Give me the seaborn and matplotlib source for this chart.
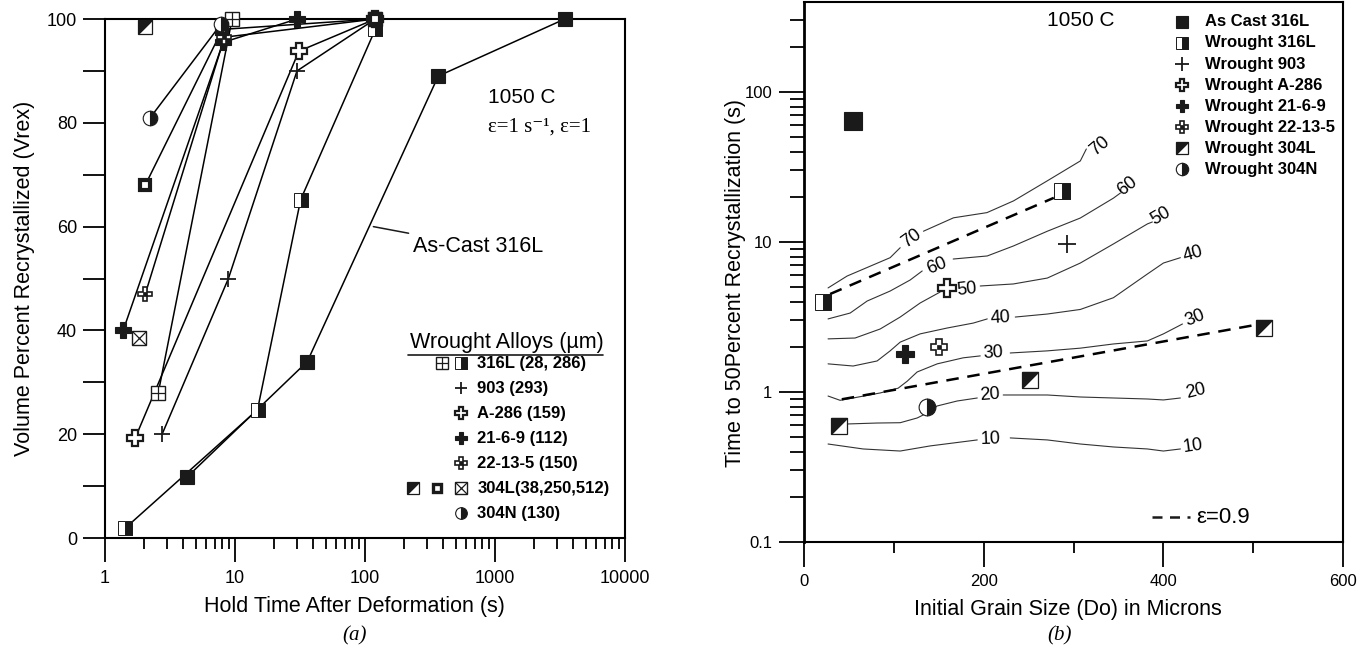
import numpy as np
import pandas as pd
import matplotlib
matplotlib.use("Agg")
import matplotlib.pyplot as plt
import seaborn as sns
from matplotlib.ticker import FixedLocator, FuncFormatter, LogLocator, NullFormatter

sns.set_theme(style="ticks", rc={"axes.edgecolor": "black", "text.color": "black",
                                 "xtick.color": "black", "ytick.color": "black",
                                 "axes.labelcolor": "black"})
plt.rcParams["font.family"] = ["Liberation Sans", "DejaVu Sans"]
SERIF = ["Liberation Serif", "DejaVu Serif"]

# =========================
# (a) hold time vs volume recrystallized
# =========================
hold_series = ["As-Cast 316L", "316L (286)", "316L (28)", "903", "A-286", "21-6-9",
               "22-13-5", "304L (38)", "304L (250)", "304L (512)", "304N"]
hold_time = [[4.3, 36, 366, 3440], [1.43, 14.9, 32, 120], [2.57, 9.5, 120],
             [2.75, 8.9, 30, 120], [1.71, 31, 120], [1.38, 8.1, 30, 120],
             [2.04, 8.3, 120], [2.04], [2.04, 8.0, 120], [1.83], [2.23, 7.8]]
vrex = [[11.8, 34, 89, 100], [1.9, 24.7, 65.2, 98], [28, 100, 100],
        [20, 50, 90, 100], [19.3, 93.8, 100], [40, 95.5, 100, 100],
        [47, 96.5, 100], [98.5], [68, 98, 100], [38.6], [81, 99]]
hold_kind = ["filled", "half", "gridbox", "plus", "ocross", "fcross", "cross22",
             "diag", "thick", "xbox", "halfcircle"]

key_a_labels = ["316L (28, 286)", "903 (293)", "A-286 (159)", "21-6-9 (112)",
                "22-13-5 (150)", "304L(38,250,512)", "304N (130)"]
key_a_kinds = [["gridbox", "half"], ["plus"], ["ocross"], ["fcross"], ["cross22"],
               ["diag", "thick", "xbox"], ["halfcircle"]]

# =========================
# (b) grain size vs time to 50% recrystallization
# =========================
grain_size = [54.6, 21, 287, 293, 159, 112.5, 150, 39, 251, 512.5, 137]
t50 = [64, 4.0, 21.9, 9.7, 4.94, 1.79, 2.0, 0.59, 1.2, 2.67, 0.79]
grain_kind = ["filled", "half", "half", "plus", "ocross", "fcross", "cross22",
              "diag", "diag", "diag", "halfcircle"]

key_b_labels = ["As Cast 316L", "Wrought 316L", "Wrought 903", "Wrought A-286",
                "Wrought 21-6-9", "Wrought 22-13-5", "Wrought 304L", "Wrought 304N"]
key_b_kinds = ["filled", "half", "plus", "ocross", "fcross", "cross22", "diag", "halfcircle"]

# contour lines, split where the inline label sits
levels = [70, 60, 50, 40, 30, 20, 10]
cont_D1 = [[26.7, 47.9, 95.8, 107.0],
           [26.7, 51.3, 70.2, 95.8, 118.1, 131.5],
           [26.7, 56.8, 84.7, 107.0, 129.2, 151.5],
           [26.7, 54.6, 81.3, 95.8, 107.0, 129.2, 159.3, 188.3, 203.9],
           [26.7, 40.1, 54.6, 84.7, 104.7, 114.8, 125.9, 148.2, 177.2, 196.1],
           [47.9, 81.3, 107.0, 125.9, 137.0, 148.2, 170.5, 192.8],
           [26.7, 65.7, 107.0, 140.4, 166.0, 192.8]]
cont_t1 = [[4.94, 5.93, 7.86, 9.16],
           [3.07, 3.36, 4.04, 4.71, 5.58, 6.41],
           [2.26, 2.29, 2.63, 3.16, 3.92, 4.64],
           [1.54, 1.49, 1.61, 1.88, 2.15, 2.44, 2.67, 2.88, 3.07],
           [0.94, 0.88, 0.912, 0.985, 1.06, 1.18, 1.36, 1.54, 1.69, 1.74],
           [0.612, 0.621, 0.624, 0.671, 0.724, 0.807, 0.871, 0.912],
           [0.45, 0.417, 0.404, 0.437, 0.457, 0.479]]
cont_D2 = [[132.9, 166.4, 203.6, 233.2, 270.4, 307.5, 314.2],
           [166.0, 203.9, 232.9, 270.8, 307.5, 344.3, 352.1],
           [196.1, 232.9, 270.8, 307.5, 344.3, 382.2, 387.7],
           [235.1, 270.8, 307.5, 344.3, 382.2, 400.0, 418.9],
           [229.5, 270.8, 307.5, 344.3, 382.2, 400.0, 421.2],
           [221.7, 270.8, 307.5, 344.3, 382.2, 400.0, 418.9],
           [229.5, 270.8, 307.5, 344.3, 382.2, 400.0, 418.9]]
cont_t2 = [[11.8, 14.5, 15.7, 18.8, 25.5, 34.7, 41.7],
           [7.70, 8.07, 9.4, 11.8, 14.45, 19.6, 21.2],
           [5.09, 5.25, 5.75, 7.24, 9.7, 13.2, 13.6],
           [3.16, 3.31, 3.55, 4.25, 6.12, 7.24, 7.86],
           [1.82, 1.88, 1.96, 2.09, 2.19, 2.44, 2.84],
           [0.955, 0.955, 0.926, 0.912, 0.898, 0.885, 0.912],
           [0.494, 0.479, 0.45, 0.43, 0.417, 0.404, 0.417]]
inline_lab_D = [120.0, 148.2, 181.6, 218.4, 210.6, 207.2, 207.2]
inline_lab_t = [10.5, 6.92, 4.86, 3.11, 1.82, 0.955, 0.486]
end_lab_D = [329.8, 359.9, 396.7, 433.4, 435.7, 435.7, 433.4]
end_lab_t = [43.65, 23.6, 14.9, 8.32, 3.11, 1.015, 0.437]

# dashed fits for strain 0.9
fit1_D = [29, 278]
fit1_t = [4.5, 19.7]
fit2_D = [42, 502.5]
fit2_t = [0.894, 2.8]

inline_rot = [36, 22, 6, 3, 3, 4, 2]
end_rot = [40, 38, 30, 16, 22, 14, 8]


def put_marker(ax, x, y, kind, ms, **kw):
    base = dict(ls="none", clip_on=False, zorder=5)
    base.update(kw)
    if kind == "filled":
        ax.plot(x, y, marker="s", ms=ms, mfc="k", mec="k", mew=0.8, **base)
    elif kind == "half":
        ax.plot(x, y, marker="s", ms=ms, fillstyle="right", mfc="k",
                mfcalt="w", mec="k", mew=0.7, **base)
    elif kind == "plus":
        ax.plot(x, y, marker="+", ms=ms * 1.15, mec="k", mew=1.3, **base)
    elif kind == "ocross":
        ax.plot(x, y, marker="P", ms=ms * 1.1, mfc="w", mec="k", mew=1.6, **base)
    elif kind == "fcross":
        ax.plot(x, y, marker="P", ms=ms * 1.1, mfc="k", mec="k", mew=0.8, **base)
    elif kind == "cross22":
        ax.plot(x, y, marker="P", ms=ms, mfc="w", mec="k", mew=1.2, **base)
        ax.plot(x, y, marker="s", ms=ms * 0.3, mfc="k", mec="k", mew=0.5, **base)
    elif kind == "diag":
        ax.plot(x, y, marker="s", ms=ms, mfc="w", mec="k", mew=0.9, **base)
        ax.plot(x, y, marker=[(-1, 1), (1, 1), (-1, -1)], ms=ms, mfc="k",
                mec="k", mew=0.9, **base)
    elif kind == "thick":
        ax.plot(x, y, marker="s", ms=ms * 0.72, mfc="w", mec="k", mew=ms * 0.3, **base)
    elif kind == "xbox":
        ax.plot(x, y, marker="s", ms=ms, mfc="w", mec="k", mew=1.0, **base)
        ax.plot(x, y, marker="x", ms=ms, mec="k", mew=0.9, **base)
    elif kind == "gridbox":
        ax.plot(x, y, marker="s", ms=ms, mfc="w", mec="k", mew=1.0, **base)
        ax.plot(x, y, marker="+", ms=ms, mec="k", mew=0.9, **base)
    elif kind == "halfcircle":
        ax.plot(x, y, marker="o", ms=ms * 1.05, fillstyle="right", mfc="k",
                mfcalt="w", mec="k", mew=0.8, **base)


fig = plt.figure(figsize=(13.67, 6.49), dpi=100)
axL = fig.add_axes([0.0768, 0.1710, 0.3804, 0.7997])
axR = fig.add_axes([0.5882, 0.1649, 0.3943, 0.8320])

# ---------- panel (a) ----------
axL.set_xscale("log")
rows = []
for name, ts, vs in zip(hold_series, hold_time, vrex):
    for t, v in zip(ts, vs):
        rows.append({"series": name, "t": t, "v": v})
df_a = pd.DataFrame(rows)
sns.lineplot(data=df_a, x="t", y="v", units="series", estimator=None, sort=False,
             color="black", lw=1.1, legend=False, ax=axL)
for ts, vs, kind in zip(hold_time, vrex, hold_kind):
    put_marker(axL, ts, vs, kind, 10)

axL.set_xlim(1, 10000)
axL.set_ylim(0, 100)
axL.yaxis.set_major_locator(FixedLocator([0, 20, 40, 60, 80, 100]))
axL.yaxis.set_minor_locator(FixedLocator([10, 30, 50, 70, 90]))
axL.xaxis.set_major_locator(FixedLocator([1, 10, 100, 1000, 10000]))
axL.xaxis.set_major_formatter(FuncFormatter(lambda v, _: f"{v:g}"))
axL.xaxis.set_minor_locator(LogLocator(base=10, subs=np.arange(2, 10)))
axL.xaxis.set_minor_formatter(NullFormatter())
axL.tick_params(axis="both", which="both", direction="out", width=1.3, labelsize=13)
axL.tick_params(axis="y", which="both", length=16, pad=4)
axL.tick_params(axis="x", which="major", length=17, pad=6)
axL.tick_params(axis="x", which="minor", length=8)
for sp in axL.spines.values():
    sp.set_linewidth(1.5)
axL.set_xlabel("Hold Time After Deformation (s)", fontsize=15.5)
axL.set_ylabel("Volume Percent Recrystallized (Vrex)", fontsize=15.5)
axL.xaxis.set_label_coords(0.48, -0.112)
axL.yaxis.set_label_coords(-0.135, 0.5)

axL.text(0.7365, 0.848, "1050 C", transform=axL.transAxes, fontsize=15, va="center")
axL.text(0.7365, 0.792, "ε=1 s⁻¹, ε=1", transform=axL.transAxes, fontsize=15,
         va="center", family=SERIF)
axL.annotate("As-Cast 316L", xy=(116, 60), xytext=(235, 56.2), fontsize=15.5,
             va="center", ha="left",
             arrowprops=dict(arrowstyle="-", color="k", lw=1.1, shrinkA=1, shrinkB=0))

# key of panel (a)
axL.text(0.773, 0.376, "Wrought Alloys (µm)", transform=axL.transAxes, fontsize=15.5,
         ha="center", va="center")
axL.plot([0.583, 0.958], [0.353, 0.353], transform=axL.transAxes, color="k", lw=1.2,
         clip_on=False)
for i, (lab, kinds) in enumerate(zip(key_a_labels, key_a_kinds)):
    yy = 0.337 - i * 0.0482
    axL.text(0.716, yy, lab, transform=axL.transAxes, fontsize=12, fontweight="bold",
             va="center", ha="left")
    step = 0.036 if len(kinds) == 2 else 0.046
    for j, kind in enumerate(reversed(kinds)):
        put_marker(axL, [0.684 - j * step], [yy], kind, 8, transform=axL.transAxes)

# ---------- panel (b) ----------
axR.set_yscale("log")
crow = []
for lev, d1, t1, d2, t2 in zip(levels, cont_D1, cont_t1, cont_D2, cont_t2):
    for d, t in zip(d1, t1):
        crow.append({"seg": f"{lev}a", "D": d, "t": t})
    for d, t in zip(d2, t2):
        crow.append({"seg": f"{lev}b", "D": d, "t": t})
df_c = pd.DataFrame(crow)
sns.lineplot(data=df_c, x="D", y="t", units="seg", estimator=None, sort=False,
             color="#333333", lw=0.8, legend=False, ax=axR)
for lev, d, t, r in zip(levels, inline_lab_D, inline_lab_t, inline_rot):
    axR.text(d, t, str(lev), fontsize=13, ha="center", va="center", rotation=r)
for lev, d, t, r in zip(levels, end_lab_D, end_lab_t, end_rot):
    axR.text(d, t, str(lev), fontsize=13, ha="center", va="center", rotation=r)

for fd, ft in [(fit1_D, fit1_t), (fit2_D, fit2_t)]:
    sns.lineplot(x=fd, y=ft, color="black", lw=1.8, ax=axR, legend=False)
axR.lines[-1].set_dashes((5, 3.5))
axR.lines[-2].set_dashes((5, 3.5))

for d, t, kind in zip(grain_size, t50, grain_kind):
    put_marker(axR, [d], [t], kind, 13 if kind == "filled" and t > 50 else 11.5)

axR.set_xlim(0, 600)
axR.set_ylim(0.1, 10 ** 2.6)
axR.xaxis.set_major_locator(FixedLocator([0, 200, 400, 600]))
axR.xaxis.set_minor_locator(FixedLocator([100, 300, 500]))
axR.yaxis.set_major_locator(FixedLocator([0.1, 1, 10, 100]))
axR.yaxis.set_major_formatter(FuncFormatter(lambda v, _: f"{v:g}"))
axR.yaxis.set_minor_locator(LogLocator(base=10, subs=np.arange(2, 10)))
axR.yaxis.set_minor_formatter(NullFormatter())
axR.tick_params(axis="both", which="both", direction="out", width=1.3, labelsize=12)
axR.tick_params(axis="both", which="major", length=18, pad=5)
axR.tick_params(axis="y", which="minor", length=10)
axR.tick_params(axis="x", which="minor", length=8)
for sp in axR.spines.values():
    sp.set_linewidth(1.5)
axR.spines["left"].set_linewidth(2)
axR.set_xlabel("Initial Grain Size (Do) in Microns", fontsize=15.5)
axR.set_ylabel("Time to 50Percent Recrystallization (s)", fontsize=15.5)
axR.xaxis.set_label_coords(0.49, -0.105)
axR.yaxis.set_label_coords(-0.108, 0.48)

axR.text(0.451, 0.965, "1050 C", transform=axR.transAxes, fontsize=15, va="center")
for i, (lab, kind) in enumerate(zip(key_b_labels, key_b_kinds)):
    yy = 0.963 - i * 0.0389
    put_marker(axR, [0.701], [yy], kind, 8.5, transform=axR.transAxes)
    axR.text(0.743, yy, lab, transform=axR.transAxes, fontsize=12, fontweight="bold",
             va="center", ha="left")
axR.plot([0.646, 0.716], [0.046, 0.046], transform=axR.transAxes, color="k", lw=1.8,
         dashes=(4, 3))
axR.text(0.727, 0.046, "ε=0.9", transform=axR.transAxes, fontsize=16, va="center")

fig.text(355 / 1367, 1 - 636 / 649, "(a)", fontsize=15, style="italic", family=SERIF,
         ha="center", va="center")
fig.text(1060 / 1367, 1 - 636 / 649, "(b)", fontsize=15, style="italic", family=SERIF,
         ha="center", va="center")

fig.savefig("out.png", dpi=100)
